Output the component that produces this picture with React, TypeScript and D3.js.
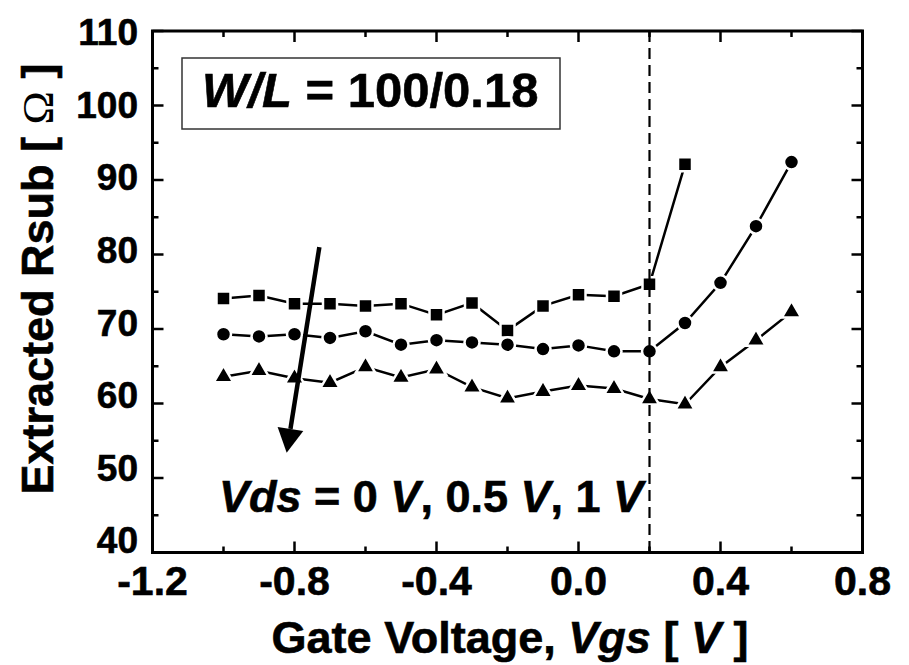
import React from "react";
import * as d3 from "d3";

// Gate voltage sweep (V)
const vgs = [-1.0, -0.9, -0.8, -0.7, -0.6, -0.5, -0.4, -0.3, -0.2, -0.1, 0.0, 0.1, 0.2, 0.3, 0.4, 0.5, 0.6];

// Extracted substrate resistance (Ohm) for Vds = 0 V, 0.5 V, 1 V
const rsubVds0 = [74.1, 74.5, 73.4, 73.4, 73.1, 73.4, 71.9, 73.5, 69.8, 73.1, 74.6, 74.4, 76.0, 92.1];
const rsubVds05 = [69.3, 69.0, 69.3, 68.8, 69.7, 67.9, 68.5, 68.2, 67.9, 67.3, 67.8, 67.0, 67.0, 70.8, 76.2, 83.8, 92.4];
const rsubVds1 = [63.6, 64.4, 63.4, 62.8, 64.9, 63.5, 64.6, 62.2, 60.7, 61.6, 62.4, 62.0, 60.6, 59.9, 64.9, 68.5, 72.3];

const xTicks = [-1.2, -0.8, -0.4, 0.0, 0.4, 0.8];
const xMinor = [-1.0, -0.6, -0.2, 0.2, 0.6];
const yTicks = [40, 50, 60, 70, 80, 90, 100, 110];
const yMinor = [45, 55, 65, 75, 85, 95, 105];

const vgsThreshold = 0.2;
// Trend arrow (data coordinates): start and tip
const arrowFrom: [number, number] = [-0.73, 81.0];
const arrowTo: [number, number] = [-0.822, 53.4];

const W = 909;
const H = 665;
const left = 152.5;
const right = 862.5;
const top = 31;
const bottom = 552.5;
const FONT = "'Liberation Sans', Arial, Helvetica, sans-serif";
const HEAVY = { stroke: "#000", strokeWidth: 0.6 };

export default function App() {
  const x = d3.scaleLinear().domain([-1.2, 0.8]).range([left, right]);
  const y = d3.scaleLinear().domain([40, 110]).range([bottom, top]);
  // tick labels sit slightly above their ticks toward the bottom of the axis
  const yLabel = d3.scaleLinear().domain([40, 110]).range([540, 32]);

  const series = [
    { values: rsubVds0, shape: "square" },
    { values: rsubVds05, shape: "circle" },
    { values: rsubVds1, shape: "triangle" },
  ];

  const line = d3
    .line<[number, number]>()
    .x((d) => x(d[0]))
    .y((d) => y(d[1]));

  const sq = d3.symbol().type(d3.symbolSquare).size(196)();
  const tri = d3.symbol().type(d3.symbolTriangle).size(160)();

  const marker = (shape: string, cx: number, cy: number, key: string) => {
    if (shape === "circle")
      return <circle key={key} cx={cx} cy={cy} r={7.5} fill="#000" stroke="#fff" strokeWidth={2.5} />;
    const d = shape === "square" ? sq : tri;
    return (
      <path key={key} d={d as string} transform={`translate(${cx},${cy})`} fill="#000" stroke="#fff" strokeWidth={2.5} />
    );
  };

  // Arrow geometry
  const ax0 = x(arrowFrom[0]);
  const ay0 = y(arrowFrom[1]);
  const ax1 = x(arrowTo[0]);
  const ay1 = y(arrowTo[1]);
  const ang = Math.atan2(ay1 - ay0, ax1 - ax0);
  const headLen = 24;
  const headHalf = 13;
  const bx = ax1 - headLen * Math.cos(ang);
  const by = ay1 - headLen * Math.sin(ang);
  const px = -Math.sin(ang);
  const py = Math.cos(ang);

  return (
    <svg width={W} height={H} style={{ position: "absolute", left: 0, top: 0, background: "#fff" }}>
      {/* series lines */}
      {series.map((s, i) => (
        <path
          key={"l" + i}
          d={line(s.values.map((v, j) => [vgs[j], v] as [number, number])) as string}
          fill="none"
          stroke="#000"
          strokeWidth={2.5}
        />
      ))}
      {/* markers */}
      {series.map((s, i) => s.values.map((v, j) => marker(s.shape, x(vgs[j]), y(v), `m${i}-${j}`)))}

      {/* threshold dashed line */}
      <line x1={x(vgsThreshold)} x2={x(vgsThreshold)} y1={top} y2={bottom} stroke="#000" strokeWidth={2.2} strokeDasharray="11 6" />

      {/* trend arrow */}
      <line x1={ax0} y1={ay0} x2={bx} y2={by} stroke="#000" strokeWidth={4.5} />
      <path
        d={`M${ax1},${ay1}L${bx + px * headHalf},${by + py * headHalf}L${bx - px * headHalf},${by - py * headHalf}Z`}
        fill="#000"
      />

      {/* frame */}
      <rect x={left} y={top} width={right - left} height={bottom - top} fill="none" stroke="#000" strokeWidth={3} />

      {/* ticks */}
      {xTicks.concat(xMinor).map((t) => {
        const len = xTicks.includes(t) ? 11 : 6;
        return (
          <g key={"xt" + t}>
            <line x1={x(t)} x2={x(t)} y1={bottom} y2={bottom - len} stroke="#000" strokeWidth={2.5} />
            <line x1={x(t)} x2={x(t)} y1={top} y2={top + len} stroke="#000" strokeWidth={2.5} />
          </g>
        );
      })}
      {yTicks.concat(yMinor).map((t) => {
        const len = yTicks.includes(t) ? 11 : 6;
        return (
          <g key={"yt" + t}>
            <line x1={left} x2={left + len} y1={y(t)} y2={y(t)} stroke="#000" strokeWidth={2.5} />
            <line x1={right} x2={right - len} y1={y(t)} y2={y(t)} stroke="#000" strokeWidth={2.5} />
          </g>
        );
      })}

      {/* tick labels */}
      <g fontFamily={FONT} fontWeight="bold" fill="#000" {...HEAVY}>
        {xTicks.map((t) => (
          <text key={"xl" + t} x={x(t)} y={595} textAnchor="middle" fontSize={41}>
            {d3.format(".1f")(t).replace("−", "-")}
          </text>
        ))}
        {yTicks.map((t) => (
          <text key={"yl" + t} x={138} y={yLabel(t)} dy="0.36em" textAnchor="end" fontSize={37}>
            {t}
          </text>
        ))}
      </g>

      {/* axis titles */}
      <text x={510} y={653} textAnchor="middle" fontFamily={FONT} fontWeight="bold" fontSize={45} {...HEAVY}>
        Gate Voltage, <tspan fontStyle="italic">Vgs</tspan>
        {"  [ "}
        <tspan fontStyle="italic">V</tspan>
        {" ]"}
      </text>
      <text
        transform={`translate(53,279) rotate(-90)`}
        textAnchor="middle"
        fontFamily={FONT}
        fontWeight="bold"
        fontSize={45}
        {...HEAVY}
      >
        {"Extracted Rsub  [ "}
        <tspan fontFamily="'Liberation Serif', 'Times New Roman', serif" fontWeight="normal" strokeWidth={0}>
          Ω
        </tspan>
        {" ]"}
      </text>

      {/* W/L annotation */}
      <rect x={182} y={58} width={378} height={71} fill="#fff" stroke="#333" strokeWidth={1.5} />
      <text x={202} y={107} fontFamily={FONT} fontWeight="bold" fontSize={49} {...HEAVY}>
        <tspan fontStyle="italic">W</tspan>
        <tspan fontStyle="italic">/</tspan>
        <tspan fontStyle="italic">L</tspan>
        {" = 100/0.18"}
      </text>

      {/* Vds annotation */}
      <text x={219} y={512} fontFamily={FONT} fontWeight="bold" fontSize={45} {...HEAVY}>
        <tspan fontStyle="italic">Vds</tspan>
        {" = 0 "}
        <tspan fontStyle="italic">V</tspan>
        {", 0.5 "}
        <tspan fontStyle="italic">V</tspan>
        {", 1 "}
        <tspan fontStyle="italic">V</tspan>
      </text>
    </svg>
  );
}
